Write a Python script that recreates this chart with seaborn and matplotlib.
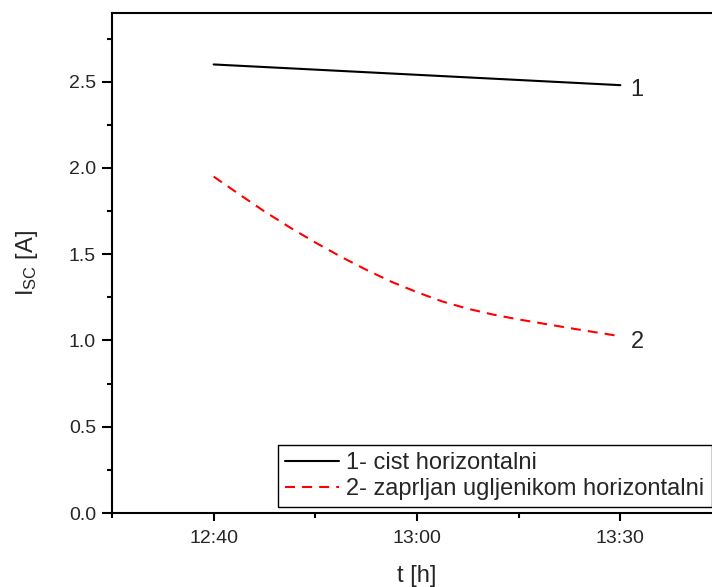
import matplotlib
matplotlib.use("Agg")
import matplotlib.pyplot as plt
import seaborn as sns
import pandas as pd
from matplotlib.ticker import MultipleLocator

# x positions (equally spaced on the chart) and their labels
tick_pos = [0, 1, 2]
tick_labels = ["12:40", "13:00", "13:30"]

# series 1 - clean panel
x_clean = [0, 1, 2]
isc_clean = [2.60, 2.54, 2.48]

# series 2 - panel soiled with carbon
x_dirty = [0, 0.125, 0.25, 0.375, 0.5, 0.625, 0.75, 0.875, 1.0,
           1.125, 1.25, 1.375, 1.5, 1.625, 1.75, 1.875, 2.0]
isc_dirty = [1.950, 1.848, 1.748, 1.655, 1.568, 1.486, 1.410, 1.340, 1.280,
             1.226, 1.184, 1.150, 1.122, 1.097, 1.072, 1.048, 1.025]

label_clean = "1- cist horizontalni"
label_dirty = "2- zaprljan ugljenikom horizontalni"

sns.set_style("ticks")
plt.rcParams["font.family"] = ["Liberation Sans", "DejaVu Sans"]

df1 = pd.DataFrame({"x": x_clean, "y": isc_clean})
df2 = pd.DataFrame({"x": x_dirty, "y": isc_dirty})

fig = plt.figure(figsize=(7.12, 5.87), dpi=100)
ax = fig.add_axes([112 / 712, 1 - 513 / 587, 610 / 712, (513 - 12.7) / 587])

sns.lineplot(data=df1, x="x", y="y", ax=ax, color="black", lw=1.5, label=label_clean)
sns.lineplot(data=df2, x="x", y="y", ax=ax, color="red", lw=1.5, label=label_dirty)
ax.lines[1].set_dashes((4.8, 3.4))

ax.set_xlim(-0.5, 2.5)
ax.set_ylim(0, 2.9)
ax.set_xticks(tick_pos)
ax.set_xticklabels(tick_labels)
ax.xaxis.set_minor_locator(MultipleLocator(0.5))
ax.yaxis.set_major_locator(MultipleLocator(0.5))
ax.yaxis.set_minor_locator(MultipleLocator(0.25))
ax.yaxis.set_major_formatter(matplotlib.ticker.FormatStrFormatter("%.1f"))

for s in ax.spines.values():
    s.set_linewidth(1.5)
    s.set_color("black")
ax.tick_params(axis="both", which="major", labelsize=14, width=1.5, color="black")
ax.tick_params(axis="y", which="major", length=7, pad=4.5)
ax.tick_params(axis="x", which="major", length=6, pad=6)
ax.tick_params(axis="both", which="minor", length=3.5, width=1.5, color="black")

ax.set_xlabel("t [h]", fontsize=17, labelpad=13)
ax.set_ylabel(r"$\mathregular{I_{SC}}$ [A]", fontsize=17, labelpad=21)

ax.text(2.05, 2.454, "1", fontsize=17, ha="left", va="center")
ax.text(2.05, 0.994, "2", fontsize=17, ha="left", va="center")

leg = ax.legend(loc="lower left", bbox_to_anchor=(278 / 712, 1 - 507 / 587),
                bbox_transform=fig.transFigure, borderaxespad=0, fontsize=17,
                frameon=True, fancybox=False, edgecolor="black", framealpha=1,
                handlelength=2.3, handletextpad=0.3, labelspacing=0.15, borderpad=0.3)
leg.get_frame().set_linewidth(1.0)

fig.savefig("out.png", dpi=100)
